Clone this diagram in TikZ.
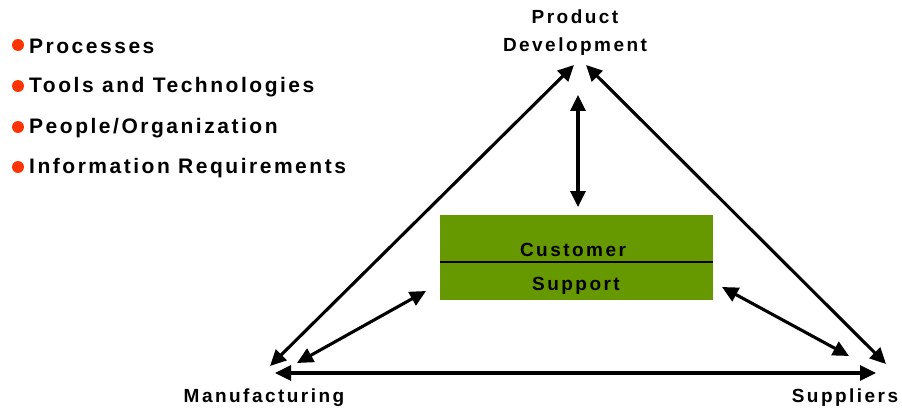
\documentclass[tikz,border=0pt]{standalone}
\usepackage{fontspec}
\setmainfont{Liberation Sans}
\newfontfamily\listfont{Liberation Sans}[LetterSpace=12]
\newfontfamily\lblfont{Liberation Sans}[LetterSpace=13]
\usetikzlibrary{arrows.meta}
\begin{document}
\begin{tikzpicture}[x=1pt,y=-1pt,
  lbl/.style={font=\lblfont\bfseries\fontsize{19}{28}\selectfont, inner sep=0pt},
  item/.style={font=\listfont\bfseries\fontsize{21}{22}\selectfont, inner sep=0pt, anchor=west},
  dot/.style={circle, fill=bulletred, inner sep=0pt, minimum size=12pt},
  conn/.style={line width=3.1pt, {Triangle[length=16pt,width=15pt]}-{Triangle[length=16pt,width=15pt]}},
  boxst/.style={fill=olivegreen, draw=none}]
\definecolor{olivegreen}{HTML}{669900}
\definecolor{bulletred}{HTML}{FF3300}
\useasboundingbox (0,0) rectangle (902,417);
% bullet list
\foreach \y/\t [count=\i] in {45/Processes,86/Tools and Technologies,127/{People/Organization},167/Information Requirements}{
  \node[dot] (d\i) at (18,\y) {};
  \node[item] (t\i) at (29,\y+1) {\t};
}
% labels
\node[lbl, align=center] (pd) at (575,33) {Product\\Development};
\node[lbl] (mf) at (264,398) {Manufacturing};
\node[lbl] (sp) at (845,398) {Suppliers};
% box
\node[boxst, minimum width=273pt, minimum height=85pt, inner sep=0pt] (cs) at (576.5,257.5) {};
\draw[line width=2.2pt] (cs.west |- 0,262) -- (cs.east |- 0,262);
\node[lbl] (cst) at (573,250) {Customer};
\node[lbl] (spt) at (576,286) {Support};
% coordinates
\coordinate (pdl) at (574,65);
\coordinate (pdr) at (586,65);
\coordinate (mfa) at (270,366);
\coordinate (sfa) at (886,364);
\coordinate (mfb) at (275,373);
\coordinate (sfb) at (876,373);
\coordinate (pdv) at (578,95);
\coordinate (csv) at (578,207);
\coordinate (csl) at (426,291);
\coordinate (mfc) at (297,363);
\coordinate (csr) at (722,287);
\coordinate (sfc) at (849,356);
% connectors
\draw[conn] (mfa) -- (pdl);
\draw[conn] (pdr) -- (sfa);
\draw[conn] (mfb) -- (sfb);
\draw[conn] (pdv) -- (csv);
\draw[conn] (csl) -- (mfc);
\draw[conn] (csr) -- (sfc);
\end{tikzpicture}
\end{document}
